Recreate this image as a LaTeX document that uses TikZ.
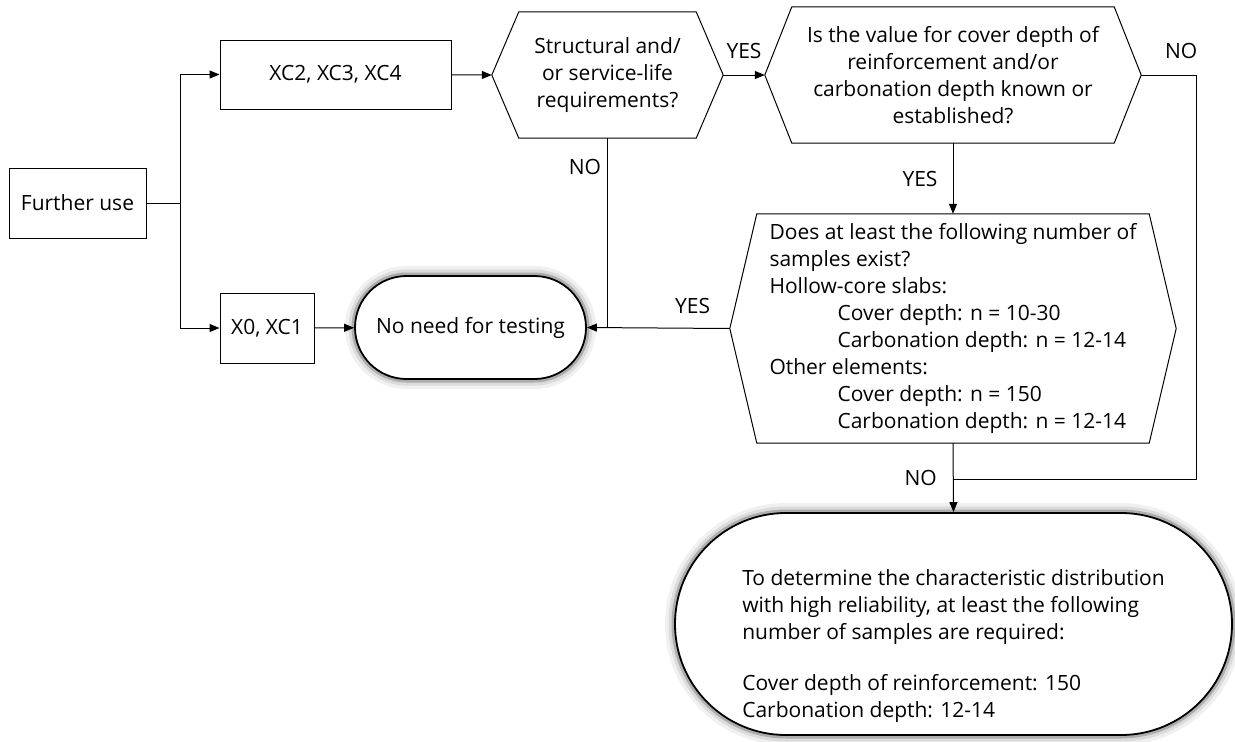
\documentclass[tikz,border=0pt]{standalone}
\usepackage{fontspec}
\setmainfont{Open Sans}
\usepackage{tikz}
\usetikzlibrary{positioning, arrows.meta, calc, shapes.misc}
\newcommand{\flowfont}{\fontsize{21}{27}\selectfont}
\tikzset{
  box/.style={draw, line width=1pt, align=center, font=\flowfont, inner sep=0pt},
  hexbox/.style={align=center, font=\flowfont, inner sep=0pt},
  term/.style={rounded rectangle, draw, line width=1.8pt, fill=white, font=\flowfont, inner sep=0pt,
    preaction={draw=black!6, line width=20pt},
    preaction={draw=black!14, line width=13pt},
    preaction={draw=black!32, line width=7pt}},
  lbl/.style={font=\flowfont, inner sep=0pt},
  arr/.style={-{Triangle[length=10pt,width=8pt]}, line width=1pt},
  ln/.style={line width=1pt},
}

\begin{document}
\begin{tikzpicture}[x=1pt,y=-1pt]
  \useasboundingbox (0,0) rectangle (1235,742);
  % boxes
  \node[box, minimum width=137pt, minimum height=70pt] (use) at (77.5,203) {Further use};
  \node[box, minimum width=231pt, minimum height=69pt] (xc234) at (335.5,74.5) {XC2, XC3, XC4};
  \node[box, minimum width=94pt, minimum height=70pt] (xc01) at (267,328) {X0, XC1};
  % questions
  \node[hexbox, minimum width=231pt, minimum height=126pt] (qreq) at (607.5,75)
    {Structural and/\\or service-life\\requirements?};
  \node[hexbox, minimum width=376pt, minimum height=136pt] (qcover) at (953,75)
    {Is the value for cover depth of\\reinforcement and/or\\carbonation depth known or\\established?};
  \node[hexbox, minimum width=446pt, minimum height=229pt, align=left] (qsample) at (953,328.5)
    {Does at least the following number of\\samples exist?\\Hollow-core slabs:\\
     \hspace*{68pt}Cover depth: n = 10-30\\\hspace*{68pt}Carbonation depth: n = 12-14\\
     Other elements:\\\hspace*{68pt}Cover depth: n = 150\\\hspace*{68pt}Carbonation depth: n = 12-14};
  \foreach \q in {qreq,qcover,qsample}
    \draw[ln] ([xshift=27pt]\q.north west) -- ([xshift=-27pt]\q.north east) -- (\q.east)
      -- ([xshift=-27pt]\q.south east) -- ([xshift=27pt]\q.south west) -- (\q.west) -- cycle;
  % end points
  \node[term, minimum width=231pt, minimum height=103pt] (notest) at (470.5,327.5) {No need for testing};
  \node[term, minimum width=557pt, minimum height=222pt, align=left] (required) at (953.5,624)
    {\mbox{}\\[33pt]To determine the characteristic distribution\\with high reliability, at least the following\\
     number of samples are required:\\[24pt]Cover depth of reinforcement: 150\\Carbonation depth: 12-14};
  % connectors
  \coordinate (split) at (180,203);
  \coordinate (noturn) at (1196,479);
  \draw[ln] (use) -- (split);
  \draw[arr] (split) |- (xc234);
  \draw[arr] (split) |- (xc01);
  \draw[arr] (xc234) -- (qreq.west);
  \draw[arr] (xc01) -- (notest);
  \draw[arr] (qreq.east) -- node[lbl, above=16pt] {YES} (qcover.west);
  \draw[ln] (qreq.south) -- node[lbl, left=6pt, pos=0.15] {NO} (qreq.south |- notest.east);
  \draw[arr] (qsample.west) -- node[lbl, above=14pt, pos=0.26] {YES} (notest.east);
  \draw[arr] (qcover.south) -- node[lbl, left=15pt] {YES} (qsample.north);
  \draw[ln] (qcover.east) -- node[lbl, above=16pt, pos=0.73] {NO} (qcover.east -| noturn)
    -- (noturn) -- (noturn -| qsample.south);
  \draw[arr] (qsample.south) -- node[lbl, left=16pt] {NO} (required.north);
\end{tikzpicture}
\end{document}
